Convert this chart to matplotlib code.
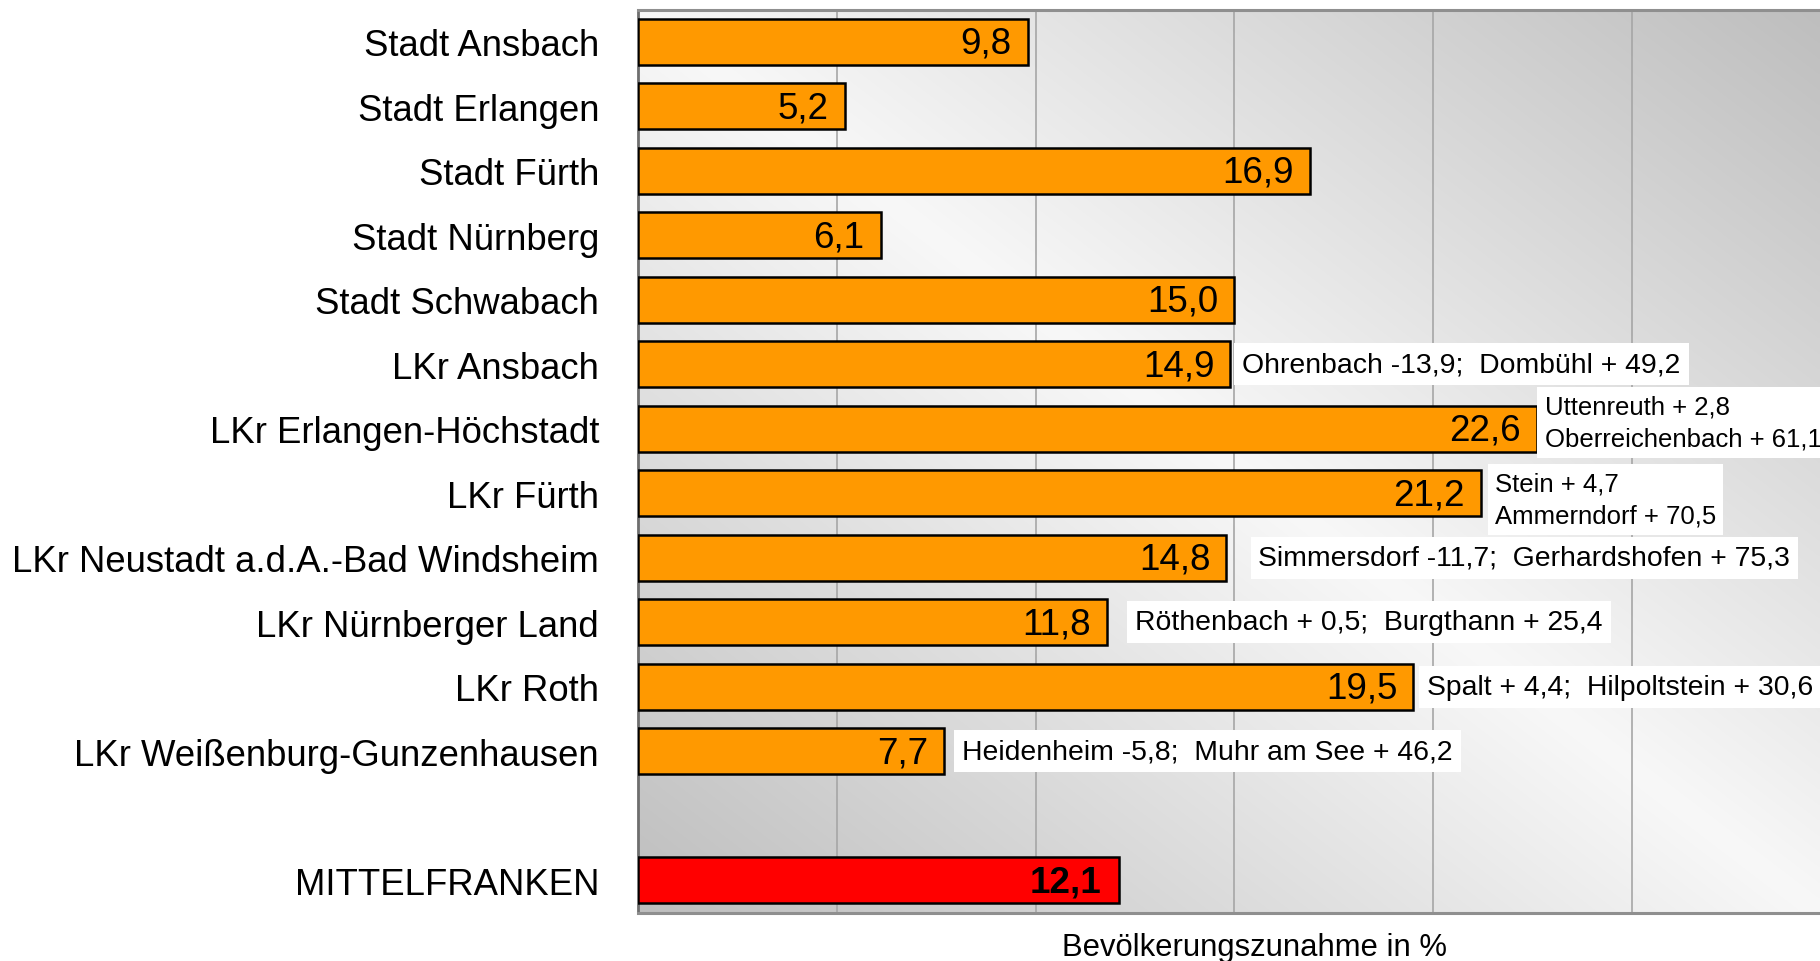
import numpy as np
import matplotlib
matplotlib.use("Agg")
import matplotlib.pyplot as plt

# ---- data ----
categories = [
    "Stadt Ansbach", "Stadt Erlangen", "Stadt Fürth", "Stadt Nürnberg",
    "Stadt Schwabach", "LKr Ansbach", "LKr Erlangen-Höchstadt", "LKr Fürth",
    "LKr Neustadt a.d.A.-Bad Windsheim", "LKr Nürnberger Land", "LKr Roth",
    "LKr Weißenburg-Gunzenhausen",
]
values = [9.8, 5.2, 16.9, 6.1, 15.0, 14.9, 22.6, 21.2, 14.8, 11.8, 19.5, 7.7]
total_label = "MITTELFRANKEN"
total_value = 12.1

notes = {
    "LKr Ansbach": "Ohrenbach -13,9;  Dombühl + 49,2",
    "LKr Erlangen-Höchstadt": "Uttenreuth + 2,8\nOberreichenbach + 61,1",
    "LKr Fürth": "Stein + 4,7\nAmmerndorf + 70,5",
    "LKr Neustadt a.d.A.-Bad Windsheim": "Simmersdorf -11,7;  Gerhardshofen + 75,3",
    "LKr Nürnberger Land": "Röthenbach + 0,5;  Burgthann + 25,4",
    "LKr Roth": "Spalt + 4,4;  Hilpoltstein + 30,6",
    "LKr Weißenburg-Gunzenhausen": "Heidenheim -5,8;  Muhr am See + 46,2",
}
xlabel = "Bevölkerungszunahme in %"

# ---- layout / style (pixel offsets of the note boxes) ----
note_offset_px = {
    "LKr Ansbach": (12, 0), "LKr Erlangen-Höchstadt": (8, 6),
    "LKr Fürth": (14, -6), "LKr Neustadt a.d.A.-Bad Windsheim": (32, 0),
    "LKr Nürnberger Land": (28, 0), "LKr Roth": (14, 0),
    "LKr Weißenburg-Gunzenhausen": (18, 0),
}
FONT = "Liberation Sans"
plt.rcParams["font.family"] = [FONT, "DejaVu Sans"]

W, H, DPI = 1820, 962, 100
fig = plt.figure(figsize=(W / DPI, H / DPI), dpi=DPI)
ax_left, ax_right, ax_top, ax_bottom = 638, 1820, 10.5, 913.5
ax = fig.add_axes([ax_left / W, 1 - ax_bottom / H, (ax_right - ax_left) / W,
                   (ax_bottom - ax_top) / H])

px_per_unit = 39.76
xmax = (ax_right - ax_left) / px_per_unit
ax.set_xlim(0, xmax)
ax.set_ylim(13.5, -0.5)

# gradient background
gy, gx = np.mgrid[0:1:300j, 0:1:400j]
f = np.abs(gx - gy)
light, dark = 0.972, 0.745
grad = light + (dark - light) * f
ax.imshow(np.dstack([grad, grad, grad]), extent=(0, 1, 0, 1), transform=ax.transAxes,
          aspect="auto", zorder=0, origin="upper", interpolation="bilinear")

for gxv in [5, 10, 15, 20, 25]:
    ax.axvline(gxv, color="#a6a6a6", lw=1.2, zorder=1)

positions = list(range(len(categories)))
total_pos = len(categories) + 1
bar_h = 0.72
ax.barh(positions, values, height=bar_h, color="#FF9900", edgecolor="black",
        linewidth=1.8, zorder=3)
ax.barh([total_pos], [total_value], height=bar_h, color="#FF0000",
        edgecolor="black", linewidth=1.8, zorder=3)

pt = 72 / DPI
for p, v in zip(positions, values):
    ax.annotate(f"{v:.1f}".replace(".", ","), (v, p), xytext=(-16 * pt, -1.5 * pt),
                textcoords="offset points", ha="right", va="center",
                fontsize=26.5, zorder=5)
ax.annotate(f"{total_value:.1f}".replace(".", ","), (total_value, total_pos),
            xytext=(-18 * pt, -1.5 * pt), textcoords="offset points", ha="right",
            va="center", fontsize=26.5, fontweight="bold", zorder=5)

for cat, txt in notes.items():
    i = categories.index(cat)
    two = "\n" in txt
    dx, dy = note_offset_px[cat]
    ax.annotate(txt, (values[i], positions[i]),
                xytext=(dx * pt, dy * pt), textcoords="offset points",
                ha="left", va="center", fontsize=18.5 if two else 20.4,
                linespacing=1.43 if two else 1.2, zorder=6, annotation_clip=False,
                bbox=dict(boxstyle="square,pad=0.28", fc="white", ec="none"))

ax.set_yticks(positions + [total_pos])
ax.set_yticklabels(categories + [total_label], fontsize=26.3)
ax.tick_params(axis="y", length=0, pad=28)
ax.set_xticks([])

ax.spines["right"].set_visible(False)
ax.spines["left"].set_color("#6e6e6e")
ax.spines["left"].set_linewidth(2)
for s in ["top", "bottom"]:
    ax.spines[s].set_color("#8f8f8f")
    ax.spines[s].set_linewidth(2.2)

fig.text(1254 / W, 1 - 948 / H, xlabel, ha="center", va="center", fontsize=22.3)

fig.savefig("out.png", dpi=DPI)
